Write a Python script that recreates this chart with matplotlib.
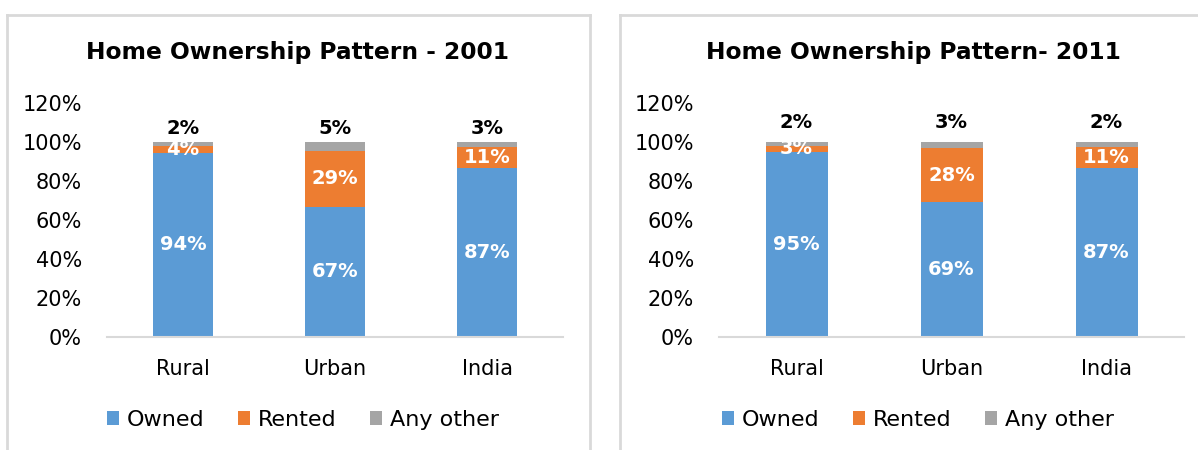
import matplotlib
matplotlib.use("Agg")
import matplotlib.pyplot as plt
from matplotlib.patches import Patch
from matplotlib.ticker import PercentFormatter

categories = ["Rural", "Urban", "India"]
series_names = ["Owned", "Rented", "Any other"]

owned_2001 = [94.4, 66.7, 86.8]
rented_2001 = [3.8, 28.7, 10.6]
other_2001 = [1.8, 4.6, 2.6]

owned_2011 = [94.9, 69.1, 86.6]
rented_2011 = [3.1, 27.6, 11.0]
other_2011 = [2.0, 3.3, 2.4]

titles = ["Home Ownership Pattern - 2001", "Home Ownership Pattern- 2011"]
yticks = [0, 20, 40, 60, 80, 100, 120]

colors = ["#5B9BD5", "#ED7D31", "#A5A5A5"]
FONT = "DejaVu Sans"
plt.rcParams["font.family"] = [FONT]

W, H = 1198, 450
fig = plt.figure(figsize=(W / 100, H / 100), dpi=100)


def fx(px):
    return px / W


def fy(py):
    return 1 - py / H


# panel borders
for (x0, x1, right_border) in [(7, 590, True), (620, 1210, False)]:
    fig.add_artist(plt.Line2D([fx(x0), fx(x0)], [fy(15), fy(460)], color="#D9D9D9", lw=2,
                              transform=fig.transFigure))
    fig.add_artist(plt.Line2D([fx(x0), fx(x1)], [fy(15), fy(15)], color="#D9D9D9", lw=2,
                              transform=fig.transFigure))
    if right_border:
        fig.add_artist(plt.Line2D([fx(x1), fx(x1)], [fy(15), fy(460)], color="#D9D9D9", lw=2,
                                  transform=fig.transFigure))

panels = [
    dict(data=(owned_2001, rented_2001, other_2001), ax_px=(107, 563), center=298,
         title=titles[0], top_off=3),
    dict(data=(owned_2011, rented_2011, other_2011), ax_px=(719, 1184), center=913,
         title=titles[1], top_off=7),
]

y0_px, y120_px = 337, 103
for p in panels:
    xl, xr = p["ax_px"]
    ax = fig.add_axes([fx(xl), fy(y0_px), (xr - xl) / W, (y0_px - y120_px) / H])
    owned, rented, other = p["data"]
    x = list(range(len(categories)))
    ax.bar(x, owned, width=0.4, color=colors[0])
    ax.bar(x, rented, width=0.4, bottom=owned, color=colors[1])
    bottoms = [o + r for o, r in zip(owned, rented)]
    ax.bar(x, other, width=0.4, bottom=bottoms, color=colors[2])
    for i in x:
        ax.text(i, owned[i] / 2, f"{round(owned[i])}%", ha="center", va="center",
                color="white", fontsize=14, fontweight="bold")
        ax.text(i, owned[i] + rented[i] / 2, f"{round(rented[i])}%", ha="center", va="center",
                color="white", fontsize=14, fontweight="bold")
        ax.annotate(f"{round(other[i])}%", (i, bottoms[i] + other[i]), xytext=(0, p["top_off"]),
                    textcoords="offset points", ha="center", va="bottom",
                    color="black", fontsize=14, fontweight="bold")
    ax.set_xlim(-0.5, 2.5)
    ax.set_ylim(0, 120)
    ax.set_yticks(yticks)
    ax.yaxis.set_major_formatter(PercentFormatter(decimals=0))
    ax.set_xticks(x)
    ax.set_xticklabels(categories)
    ax.tick_params(axis="both", length=0, labelsize=15, colors="#000000")
    ax.tick_params(axis="y", pad=18)
    ax.tick_params(axis="x", pad=16)
    for s in ["top", "right", "left"]:
        ax.spines[s].set_visible(False)
    ax.spines["bottom"].set_color("#D9D9D9")
    ax.spines["bottom"].set_linewidth(1.5)
    ax.set_facecolor("none")

    fig.text(fx(p["center"]), fy(52), p["title"], ha="center", va="center",
             fontsize=16.8, fontweight="bold")
    handles = [Patch(facecolor=c) for c in colors]
    fig.legend(handles, series_names, loc="center", bbox_to_anchor=(fx(p["center"] + 5), fy(420)),
               ncol=3, frameon=False, fontsize=16, handlelength=0.55, handleheight=0.55,
               handletextpad=0.35, columnspacing=1.5)

fig.savefig("out.png", dpi=100)
